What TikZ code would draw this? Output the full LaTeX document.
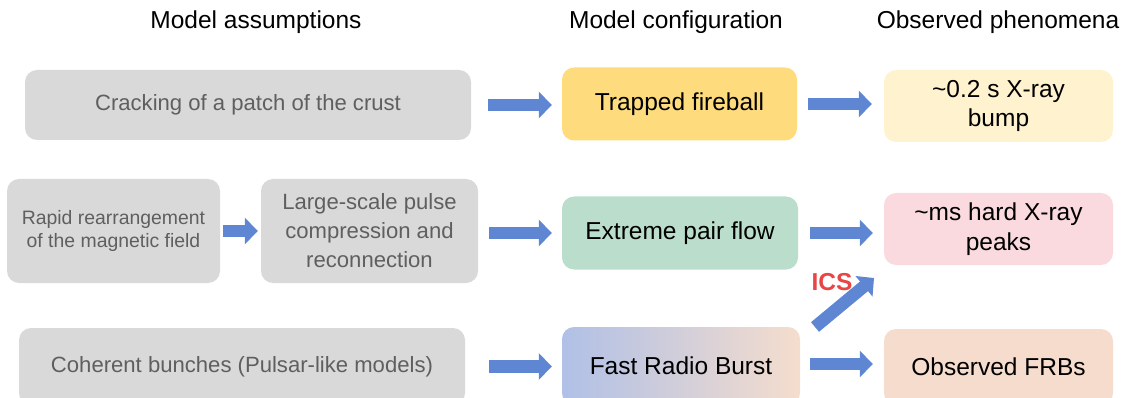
\documentclass[tikz,border=0pt]{standalone}
\usepackage{fontspec}
\setmainfont{Liberation Sans}
\usepackage{xcolor}
\usepackage{tikz}
\usetikzlibrary{arrows.meta}

\definecolor{boxgray}{HTML}{D9D9D9}
\definecolor{textgray}{HTML}{5F5F5F}
\definecolor{fireyellow}{HTML}{FEDC7E}
\definecolor{bumpyellow}{HTML}{FFF2CF}
\definecolor{pairgreen}{HTML}{BADECB}
\definecolor{peakpink}{HTML}{FADADF}
\definecolor{frbblue}{HTML}{B0C0E6}
\definecolor{frbpeach}{HTML}{F5DDCD}
\definecolor{obspeach}{HTML}{F5DCCD}
\definecolor{arrowblue}{HTML}{5F86D3}
\definecolor{icsred}{HTML}{E84545}

\begin{document}
\begin{tikzpicture}[x=1pt,y=-1pt]
                \tikzstyle{every node}+=[inner sep=0pt,font=\fontsize{24.5}{29.5}\selectfont]
                \tikzstyle{box}=[rounded corners=12pt,align=center]
                \tikzstyle{assume}=[box,fill=boxgray,text=textgray,font=\fontsize{22.1}{29}\selectfont]
                \tikzstyle{blockarrow}=[draw=arrowblue,line width=12.5pt,-{Triangle[width=26pt,length=13pt]}]
                \useasboundingbox (0,0) rectangle (1129,398);
                % column titles
                \node (title1) at (256,22) {Model assumptions};
                \node (title2) at (676,22) {Model configuration};
                \node (title3) at (998,22) {Observed phenomena};
                % first row
                \node [assume,minimum width=446pt,minimum height=70pt] (crack) at (248,105) {Cracking of a patch of the crust};
                \node [box,fill=fireyellow,minimum width=235pt,minimum height=73pt] (fireball) at (679.5,104) {Trapped fireball};
                \node [box,fill=bumpyellow,minimum width=229pt,minimum height=72pt] (bump) at (998.5,106) {\textasciitilde0.2 s X-ray\\bump};
                \draw [blockarrow,shorten <=17pt,shorten >=10pt] (crack.east) -- (crack.east -| fireball.west);
                \draw [blockarrow,shorten <=11pt,shorten >=12pt] (fireball.east) -- (fireball.east -| bump.west);
                % second row
                \node [assume,minimum width=213pt,minimum height=104pt,font=\fontsize{19.4}{23}\selectfont] (rapid) at (113.5,231) {Rapid rearrangement\\of the magnetic field};
                \node [assume,minimum width=217pt,minimum height=104pt] (pulse) at (369.5,231) {Large-scale pulse\\compression and\\reconnection};
                \node [box,fill=pairgreen,minimum width=236pt,minimum height=73pt] (pairflow) at (680,233) {Extreme pair flow};
                \node [box,fill=peakpink,minimum width=229pt,minimum height=72pt] (peaks) at (998.5,229) {\textasciitilde ms hard X-ray\\peaks};
                \draw [blockarrow,shorten <=3pt,shorten >=3pt] (rapid.east) -- (rapid.east -| pulse.west);
                \draw [blockarrow,shorten <=11pt,shorten >=10pt] (pulse.east |- pairflow) -- (pairflow.west);
                \draw [blockarrow,shorten <=12pt,shorten >=11pt] (pairflow.east) -- (pairflow.east -| peaks.west);
                % third row
                \node [assume,minimum width=446pt,minimum height=77pt] (bunches) at (242,366.5) {Coherent bunches (Pulsar-like models)};
                \node [box,left color=frbblue,right color=frbpeach,minimum width=238pt,minimum height=78pt] (frb) at (681,366) {Fast Radio Burst};
                \node [box,fill=obspeach,minimum width=229pt,minimum height=76pt] (observed) at (998.5,367) {Observed FRBs};
                \draw [blockarrow,shorten <=24pt,shorten >=10pt] (bunches.east) -- (bunches.east -| frb.west);
                \draw [blockarrow,shorten <=10pt,shorten >=11pt] (frb.east |- 0,364) -- (observed.west |- 0,364);
                % inverse Compton branch
                \coordinate (icsfrom) at (815,327);
                \coordinate (icsto) at (874,278);
                \draw [blockarrow] (icsfrom) -- (icsto);
                \node [text=icsred,font=\bfseries\fontsize{24.5}{29.5}\selectfont] (ics) at (832,282) {ICS};
\end{tikzpicture}
\end{document}
